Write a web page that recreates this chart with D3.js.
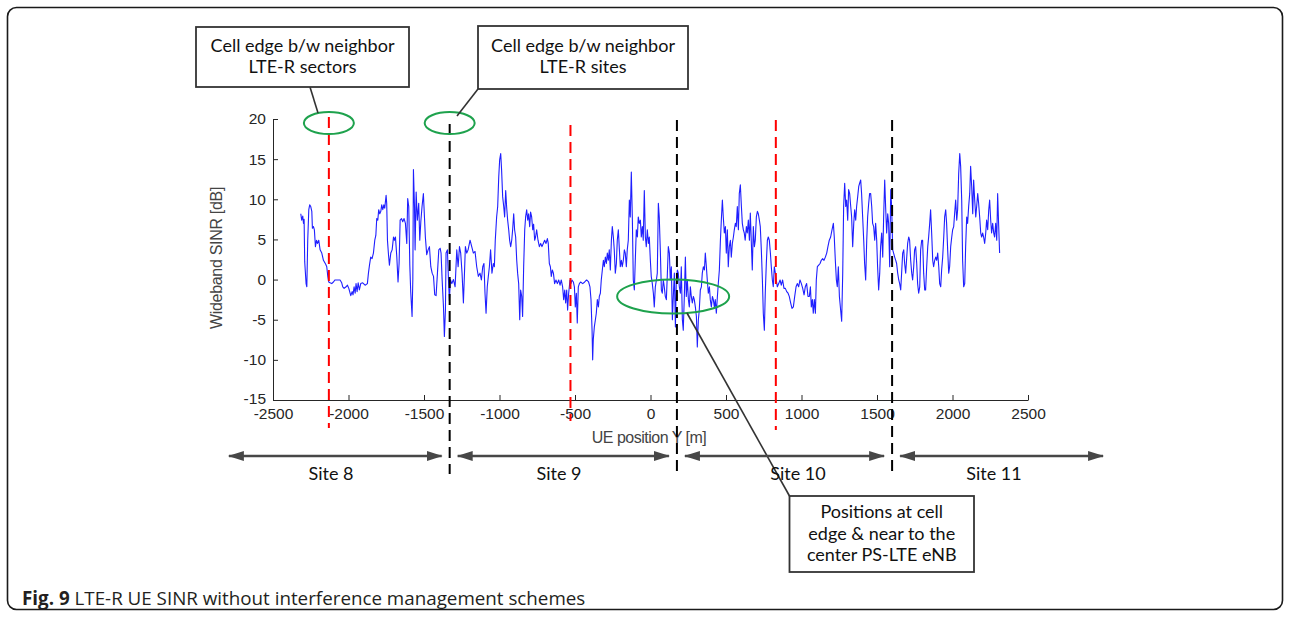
<!DOCTYPE html>
<html>
<head>
<meta charset="utf-8">
<script src="https://cdn.jsdelivr.net/npm/d3@7/dist/d3.min.js"></script>
<style>
  html, body { margin: 0; padding: 0; background: #fff; }
  svg { display: block; }
</style>
</head>
<body>
<svg id="fig" width="1291" height="618"></svg>
<script>
// UE position along the track [m]
const posY = [
  -2316,-2310,-2303,-2298,-2294,-2290,-2281,-2276,-2270,-2263,-2257,-2250,-2243,-2239,-2232,-2226,-2219,-2212,-2206,-2197,
  -2188,-2177,-2166,-2151,-2144,-2137,-2131,-2122,-2111,-2100,-2089,-2073,-2056,-2045,-2038,-2029,-2016,-2007,-1998,-1985,
  -1976,-1970,-1963,-1956,-1950,-1943,-1936,-1928,-1919,-1906,-1890,-1875,-1868,-1861,-1853,-1844,-1835,-1826,-1819,-1813,
  -1806,-1800,-1793,-1786,-1780,-1773,-1766,-1760,-1751,-1747,-1742,-1736,-1729,-1720,-1711,-1702,-1696,-1689,-1680,-1672,
  -1665,-1658,-1649,-1641,-1632,-1623,-1614,-1608,-1601,-1594,-1588,-1579,-1574,-1570,-1563,-1559,-1552,-1544,-1535,-1528,
  -1521,-1513,-1504,-1497,-1491,-1482,-1473,-1464,-1455,-1446,-1437,-1429,-1420,-1411,-1402,-1393,-1387,-1380,-1371,-1365,
  -1358,-1354,-1345,-1338,-1332,-1325,-1316,-1305,-1294,-1283,-1274,-1265,-1257,-1248,-1239,-1232,-1226,-1217,-1208,
  -1195,-1184,-1173,-1162,-1151,-1140,-1129,-1120,-1111,-1103,-1096,-1089,-1081,-1074,-1067,-1059,-1050,-1041,-1034,-1028,
  -1019,-1012,-1005,-999,-992,-986,-979,-972,-966,-959,-953,-946,-939,-933,-926,-919,-913,-906,-900,-893,
  -886,-880,-873,-866,-860,-853,-847,-840,-833,-827,-820,-813,-807,-800,-794,-787,-780,-774,-767,-761,
  -754,-745,-736,-727,-719,-710,-701,-692,-683,-677,-670,-663,-657,-650,-643,-635,-626,-617,-608,-599,
  -591,-582,-575,-568,-562,-555,-549,-542,-533,-527,-520,-511,-504,-498,-491,-485,-478,-471,-463,-449,
  -436,-423,-410,-401,-394,-387,-383,-379,-372,-365,-359,-352,-345,-339,-332,-326,-319,-312,-306,-299,
  -292,-286,-279,-273,-266,-259,-253,-246,-240,-233,-226,-220,-213,-206,-200,-193,-187,-180,-173,-167,
  -160,-154,-147,-140,-134,-127,-120,-114,-107,-100,-94,-87,-81,-74,-67,-61,-54,-48,-41,-34,
  -28,-21,-14,-8,-1,5,12,19,25,32,39,45,52,58,65,72,78,85,91,98,
  105,111,
  118,125,131,138,145,151,158,165,171,178,184,191,198,204,211,217,224,231,237,244,
  251,257,264,270,277,284,290,297,304,310,317,323,330,337,343,350,357,363,370,376,
  383,390,396,403,410,416,423,429,436,443,449,456,463,469,476,482,489,496,502,509,
  515,522,529,535,542,549,555,562,568,575,582,588,595,602,608,615,621,627,635,641,
  648,655,661,668,674,681,688,694,701,708,714,721,727,734,741,747,754,760,767,774,
  780,787,794,800,807,813,820,827,833,840,849,858,866,875,884,893,902,911,919,928,
  937,946,955,964,972,981,990,999,1008,1017,1025,1034,1043,1052,1059,1065,1072,1078,1085,1092,
  1098,1105,1114,1123,1131,1140,1149,1158,1167,1175,1184,1193,1202,1211,1217,1224,1231,1237,1244,1251,
  1266,1273,1279,1286,1293,1299,1306,1312,1319,1326,1332,1339,1346,1352,1359,1365,1372,1379,1385,1392,
  1398,1405,1412,1418,1425,1432,1438,1445,1451,1458,1465,1471,1478,1485,1491,1498,1504,1511,1518,1524,
  1531,1538,1544,1551,1557,1564,1571,1577,1584,1591,1597,1604,1610,1617,1624,1630,1637,1644,1650,1657,
  1663,1670,1677,1683,1690,1697,1703,1710,1716,1723,1730,1736,1743,1749,1756,1763,1769,1776,1783,1789,
  1796,1802,1809,1816,1822,1829,1836,1842,1849,1855,1862,1869,1875,1882,1889,1895,1902,1909,1915,1922,
  1928,1935,1942,1948,1955,1961,1968,1975,1981,1988,1995,2001,2008,2014,2021,2028,2034,2041,2048,2054,
  2061,2067,2074,2081,2087,2094,2100,2107,2114,2120,2127,2134,2140,2147,2154,2160,2167,2173,2180,2187,
  2193,2200,2206,2213,2220,2226,2233,2240,2246,2253,2259,2266,2273,2279,2286,2293,2299,2306,2312
];

// Wideband SINR [dB] at each position
const sinr = [
  8.2,7.4,7.9,7.0,7.5,2.2,-0.5,-0.9,4.9,8.7,9.3,9.1,8.5,6.4,6.6,6.2,4.1,4.9,4.5,4.9,
  3.7,3.3,2.4,1.9,1.6,0.4,-0.3,-0.4,-0.5,-0.3,-0.05,-0.05,-0.05,-0.4,-0.9,-1.1,-0.9,-0.7,-1.1,-2.0,
  -1.5,-1.9,-0.9,-1.7,-0.5,-1.5,-0.4,-1.3,-0.5,-0.4,-0.7,-0.5,0.8,1.8,2.8,2.6,3.3,4.9,5.5,7.6,
  7.4,8.7,8.2,8.5,9.3,8.7,9.3,8.9,10.5,9.5,4.9,3.3,1.8,3.3,3.7,5.3,4.9,5.3,2.8,-0.3,
  2.0,7.4,7.6,7.2,7.6,7.0,4.5,10.1,9.1,1.8,-1.5,-4.6,0.0,13.7,9.1,3.7,10.9,7.4,9.5,4.9,
  7.2,9.1,10.7,7.8,5.3,3.1,3.7,4.1,1.6,0.8,0.4,-1.9,-2.0,0.8,3.7,3.9,3.3,0.0,-3.4,-7.1,
  -3.8,3.3,3.7,0.0,-2.6,0.0,-0.5,0.0,-0.9,3.7,1.6,4.1,3.3,0.8,-2.9,0.8,4.1,3.3,3.7,
  4.9,4.1,3.3,3.5,1.6,0.4,0.8,-0.05,1.6,2.0,-1.7,-4.2,-0.9,0.4,1.6,3.7,0.8,2.0,1.6,4.9,
  7.8,9.1,12.8,14.9,15.7,13.6,10.3,9.1,7.8,11.1,9.1,7.4,6.2,4.9,4.1,4.9,6.2,8.2,6.2,5.3,
  2.4,0.8,-0.5,-5.0,-1.3,-2.1,-4.6,1.6,6.2,7.8,8.7,7.4,8.2,6.6,8.4,7.8,6.2,6.9,4.9,5.3,
  6.2,4.9,4.1,4.5,4.1,4.5,4.9,4.5,5.1,4.5,2.0,1.6,0.4,1.2,0.8,-0.5,-0.05,-0.5,-0.05,-0.7,
  -0.05,-0.9,-2.5,-1.3,-2.9,-1.3,-3.8,-1.7,-0.05,-0.5,-0.05,-0.3,-0.9,-3.4,-1.7,-5.4,-0.9,-0.5,-0.3,-0.5,
  -0.3,-0.05,-0.3,-0.9,-2.5,-6.3,-10.0,-7.5,-5.9,-5.0,-4.2,-2.5,-3.4,-2.1,-1.7,-0.05,1.2,2.4,1.6,2.8,
  2.0,3.3,2.4,3.7,1.2,4.9,6.6,5.3,3.7,0.8,2.0,4.9,6.2,3.7,1.6,2.4,1.6,2.4,3.7,3.3,
  1.6,3.7,4.9,9.9,7.8,13.4,7.4,-0.05,-1.3,2.8,6.2,5.3,7.8,7.0,7.4,5.3,6.6,4.9,11.1,5.3,
  4.1,6.2,4.5,5.3,2.4,0.4,-0.5,-1.7,-3.4,-0.9,-0.05,0.8,9.5,7.8,3.7,-1.3,-1.7,-0.05,-0.9,-2.1,
  -2.5,0.4,
  4.1,3.3,-0.05,1.6,-5.0,-2.1,0.8,-5.9,-0.05,1.2,0.8,-0.9,-1.7,1.6,-5.0,-6.3,-2.1,2.8,-2.1,-0.05,
  -2.5,-3.4,-0.9,-2.1,-2.9,-2.1,-2.5,-3.4,-4.6,-8.4,-5.0,-3.8,-1.3,-0.9,0.8,1.6,1.2,3.3,1.6,-0.05,
  -1.7,-0.9,-2.5,-3.4,-2.1,-2.5,-3.4,-2.5,-4.2,-2.1,-0.5,1.2,4.9,7.4,9.9,7.8,5.8,6.6,3.3,6.2,
  1.6,4.1,4.9,2.8,4.5,5.3,6.2,7.0,6.6,9.1,6.2,10.7,11.8,9.1,7.0,6.2,5.8,4.9,6.6,5.8,
  7.4,4.9,8.3,4.5,1.2,6.6,4.1,4.9,7.8,8.5,8.2,7.4,6.6,3.7,-0.05,-4.2,-6.3,-1.7,2.0,4.9,
  5.3,4.9,3.3,1.6,-0.05,-0.9,1.6,0.8,-0.05,-0.9,-0.5,-0.05,-0.7,-0.05,-1.1,-1.1,-1.5,-1.7,-2.1,-2.9,
  -3.6,-3.4,-2.1,-0.9,-0.5,-0.9,-0.05,-0.5,-1.1,-1.9,-0.9,-0.5,-2.1,-2.1,-0.9,-3.4,-2.5,-4.2,-2.5,-4.2,
  -0.05,1.6,1.8,2.0,2.4,2.6,2.4,2.8,3.3,4.1,4.9,5.3,6.2,7.0,5.3,2.4,-0.05,-0.9,1.6,-2.1,
  -5.2,0.8,9.1,12.0,9.1,9.9,7.4,11.2,10.7,9.1,7.8,4.1,7.0,8.7,7.4,9.1,10.3,11.6,12.0,12.4,
  10.7,7.8,4.9,2.0,-0.05,4.9,7.8,9.5,10.7,10.7,9.1,7.0,6.6,4.9,7.0,4.9,1.6,-1.3,0.8,4.1,
  5.8,2.8,7.8,12.4,9.1,5.8,8.2,7.0,1.6,11.2,9.1,3.7,3.3,2.8,2.4,2.0,0.8,-0.05,-0.5,-1.3,
  0.8,3.3,3.7,2.0,0.8,2.8,4.5,5.3,4.9,2.4,0.8,-0.05,1.6,3.7,4.1,2.0,-0.5,-1.7,-0.9,3.7,
  4.9,4.9,0.8,-1.3,-1.3,1.6,4.1,5.3,7.0,8.7,5.8,2.4,1.6,2.4,2.8,2.4,3.3,1.6,-0.5,-0.9,
  1.2,2.8,5.3,7.8,8.7,7.0,3.7,0.8,1.6,4.1,5.3,6.2,6.6,8.2,9.9,7.4,8.7,13.2,15.7,14.1,
  9.9,2.4,-0.9,-0.5,4.1,7.8,7.0,9.1,10.7,14.1,11.6,8.2,12.4,9.9,7.8,9.1,10.7,9.5,7.8,5.8,
  5.3,5.8,5.3,4.5,5.8,7.4,6.2,8.7,9.9,7.4,5.8,7.0,5.8,5.3,7.0,4.9,10.7,6.6,3.3
];

// Axis tick values and labels
const xTicks = [-2500, -2000, -1500, -1000, -500, 0, 500, 1000, 1500, 2000, 2500];
const yTicks = [-15, -10, -5, 0, 5, 10, 15, 20];

// Cell edges between neighbouring sectors (red) and neighbouring sites (black)
const sectorEdges = [-2130, -530, 830];
const siteEdges = [-1330, 175, 1600];

// Site coverage along the track
const siteNames = ["Site 8", "Site 9", "Site 10", "Site 11"];
const siteBounds = [-2845, -1330, 175, 1600, 3050];

// Callout texts
const calloutSectors = ["Cell edge b/w neighbor", "LTE-R sectors"];
const calloutSites = ["Cell edge b/w neighbor", "LTE-R sites"];
const calloutCenter = ["Positions at cell", "edge & near to the", "center PS-LTE eNB"];

const svg = d3.select("#fig");

// outer figure frame
svg.append("rect")
  .attr("x", 7.5).attr("y", 7.5)
  .attr("width", 1275).attr("height", 602)
  .attr("rx", 9).attr("ry", 9)
  .attr("fill", "none").attr("stroke", "#1a1a1a").attr("stroke-width", 1.6);

const x = d3.scaleLinear().domain([-2500, 2500]).range([273, 1028]);
const y = d3.scaleLinear().domain([-15, 20]).range([400, 119]);

const axisFont = "'Liberation Sans', Arial, sans-serif";
const noteFont = "Lato, 'Open Sans', sans-serif";
const plain = d => String(d);

// axes (MATLAB style: inward ticks, no box)
const gx = svg.append("g").attr("transform", `translate(0,${y(-15)})`)
  .call(d3.axisBottom(x).tickValues(xTicks).tickFormat(plain)
    .tickSize(-5).tickSizeOuter(0).tickPadding(8));
const gy = svg.append("g").attr("transform", `translate(${x(-2500)},0)`)
  .call(d3.axisLeft(y).tickValues(yTicks).tickFormat(plain)
    .tickSize(-5).tickSizeOuter(0).tickPadding(7));
[gx, gy].forEach(g => {
  g.select(".domain").attr("stroke", "#262626").attr("stroke-width", 1);
  g.selectAll(".tick line").attr("stroke", "#262626");
  g.selectAll(".tick text").attr("fill", "#262626")
    .style("font-family", axisFont).style("font-size", "15.5px");
});
gy.select(".tick text").attr("dy", "0.22em");

// axis titles
svg.append("text")
  .attr("x", 649).attr("y", 443)
  .attr("text-anchor", "middle")
  .style("font-family", axisFont).style("font-size", "16px")
  .attr("fill", "#444").attr("letter-spacing", "-0.5")
  .text("UE position Y [m]");
svg.append("text")
  .attr("transform", "translate(222,258) rotate(-90)")
  .attr("text-anchor", "middle")
  .style("font-family", axisFont).style("font-size", "16px")
  .attr("fill", "#444").attr("letter-spacing", "-0.3")
  .text("Wideband SINR [dB]");

// SINR trace
const pts = posY.map((p, i) => [p, sinr[i]]);
svg.append("path")
  .datum(pts)
  .attr("fill", "none")
  .attr("stroke", "#1f1fff")
  .attr("stroke-width", 1.1)
  .attr("stroke-linejoin", "round")
  .attr("d", d3.line().x(d => x(d[0])).y(d => y(d[1])));

// dashed edge markers
svg.append("g").selectAll("line").data(sectorEdges).join("line")
  .attr("x1", d => x(d)).attr("x2", d => x(d))
  .attr("y1", (d, i) => [117, 125, 120][i]).attr("y2", (d, i) => [428, 421, 430][i])
  .attr("stroke", "#ff0000").attr("stroke-width", 2).attr("stroke-dasharray", "11,6");
svg.append("g").selectAll("line").data(siteEdges).join("line")
  .attr("x1", d => x(d)).attr("x2", d => x(d))
  .attr("y1", (d, i) => [124, 120, 120][i]).attr("y2", 474)
  .attr("stroke", "#000").attr("stroke-width", 2).attr("stroke-dasharray", "11,6");

// green highlight ellipses
const green = "#1ea24d";
[[sectorEdges[0], 19.5, 25, 11], [siteEdges[0], 19.5, 25, 11], [150, -2.1, 56, 17]].forEach(e => {
  svg.append("ellipse")
    .attr("cx", x(e[0])).attr("cy", y(e[1]))
    .attr("rx", e[2]).attr("ry", e[3])
    .attr("fill", "none").attr("stroke", green).attr("stroke-width", 2);
});

// callout boxes with leader lines
function callout(bx, by, bw, bh, lines, baseline0, lineGap, leader) {
  svg.append("line")
    .attr("x1", leader[0]).attr("y1", leader[1]).attr("x2", leader[2]).attr("y2", leader[3])
    .attr("stroke", "#333").attr("stroke-width", 1.6);
  svg.append("rect")
    .attr("x", bx).attr("y", by).attr("width", bw).attr("height", bh)
    .attr("fill", "#fff").attr("stroke", "#333").attr("stroke-width", 1.8);
  svg.append("text")
    .attr("text-anchor", "middle")
    .style("font-family", noteFont).style("font-size", "18px").attr("fill", "#111")
    .selectAll("tspan").data(lines).join("tspan")
    .attr("x", bx + bw / 2).attr("y", (d, i) => baseline0 + i * lineGap)
    .text(d => d);
}
callout(196, 27, 213, 60, calloutSectors, 52, 21, [310, 87, 318, 113]);
callout(478, 26, 210, 63, calloutSites, 52, 21, [478, 89, 457, 116]);
callout(789.5, 496, 184.5, 76, calloutCenter, 518, 21.5, [687, 313, 789.5, 496]);

// site coverage arrows
const arrowColor = "#474747";
const defs = svg.append("defs");
defs.append("marker")
  .attr("id", "ah").attr("viewBox", "0 0 16 10")
  .attr("refX", 15).attr("refY", 5)
  .attr("markerWidth", 16).attr("markerHeight", 10)
  .attr("markerUnits", "userSpaceOnUse")
  .attr("orient", "auto-start-reverse")
  .append("path").attr("d", "M0,0 L16,5 L0,10 Z").attr("fill", arrowColor);

const arrowY = 456;
const siteData = siteNames.map((n, i) => ({ name: n, a: siteBounds[i], b: siteBounds[i + 1] }));
svg.append("g").selectAll("line").data(siteData).join("line")
  .attr("x1", d => x(d.a) + 8).attr("x2", d => x(d.b) - 8)
  .attr("y1", arrowY).attr("y2", arrowY)
  .attr("stroke", arrowColor).attr("stroke-width", 2.6)
  .attr("marker-start", "url(#ah)").attr("marker-end", "url(#ah)");
svg.append("g").selectAll("text").data(siteData).join("text")
  .attr("x", (d, i) => [331, 559, 798, 994][i])
  .attr("y", 480)
  .attr("text-anchor", "middle")
  .style("font-family", noteFont).style("font-size", "18px").attr("fill", "#111")
  .text(d => d.name);

// caption
const cap = svg.append("text")
  .attr("x", 22).attr("y", 605)
  .style("font-family", "'Open Sans', sans-serif").style("font-size", "18.8px")
  .attr("fill", "#231f20");
cap.append("tspan").attr("font-weight", "bold").text("Fig. 9");
cap.append("tspan").text(" LTE-R UE SINR without interference management schemes");
</script>
</body>
</html>
